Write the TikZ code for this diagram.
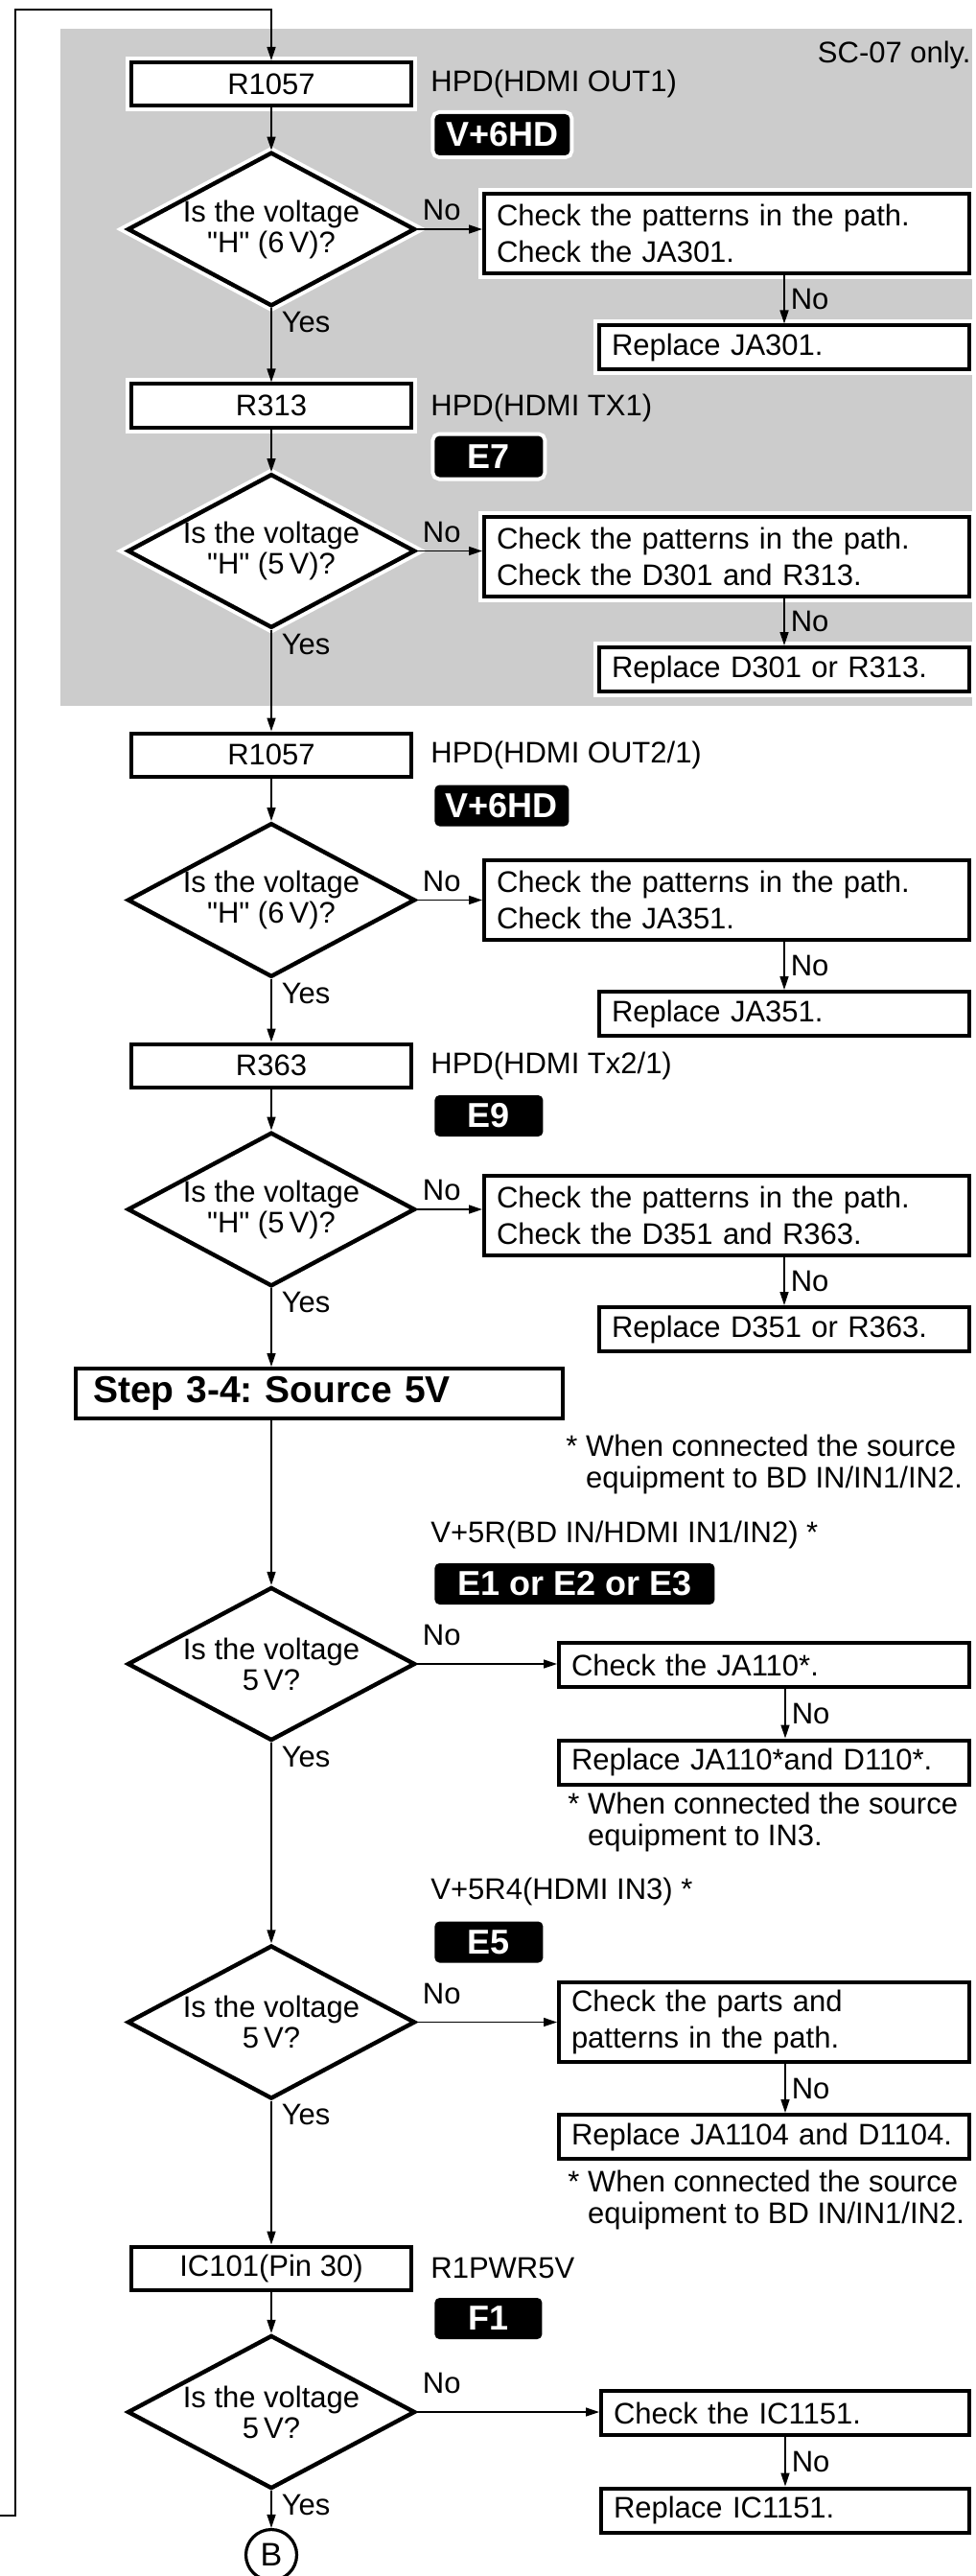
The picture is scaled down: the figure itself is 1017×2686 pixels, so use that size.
\documentclass[tikz,border=0pt]{standalone}
\usepackage{fontspec}
\setmainfont{Liberation Sans}
\usetikzlibrary{arrows.meta, shapes.geometric, calc}
\frenchspacing
\newcommand{\qH}{\textquotedbl H\textquotedbl}

\begin{document}
\begin{tikzpicture}[x=0.5pt, y=-0.5pt, >={Triangle[length=7pt, width=4.5pt]},
  txt/.style={font=\fontsize{15.5}{19}\selectfont},
  conn/.style={->, line width=0.75pt},
  partbox/.style={draw, line width=2pt, fill=white, inner sep=0pt,
    minimum width=146pt, minimum height=22.5pt, txt},
  chkbox/.style={draw, line width=2pt, fill=white, inner ysep=0pt, inner xsep=6.5pt,
    text width=#1, align=left, minimum height=23pt, txt},
  decision/.style={diamond, draw, line width=2.2pt, fill=white, aspect=1.85, inner sep=0pt,
    minimum width=150pt, minimum height=80pt, align=center,
    font=\fontsize{15.5}{16}\selectfont},
  grayzone/.style={preaction={draw=white, fill=white, line width=6pt}},
  tag/.style={fill=black, text=white, rounded corners=2.5pt, inner sep=0pt, anchor=west,
    minimum width=#1, minimum height=21.5pt, preaction={draw=white, line width=4pt},
    font=\fontsize{18}{18}\selectfont\bfseries},
  side/.style={anchor=west, inner sep=0pt, txt},
  note/.style={anchor=north west, inner sep=0pt, align=left, font=\fontsize{15.5}{16.5}\selectfont},
  nolbl/.style={pos=0, anchor=south west, inner sep=1pt, xshift=1.5pt, yshift=3pt, txt},
  nodown/.style={right, inner sep=1pt, xshift=2pt, txt},
  yeslbl/.style={pos=0, anchor=north west, inner sep=1pt, xshift=4pt, yshift=-0.5pt, txt}]

\useasboundingbox (0,0) rectangle (1017,2686);

% === SC-07 block (gray) ===
\fill[black!20] (63,30) rectangle (1014,736);
\node[side, anchor=east] (sconly) at (1013,57) {SC-07 only.};

\node[partbox, grayzone] (r1057a) at (283,87.5) {R1057};
\node[side] (hpdout1) at (449,87) {HPD(HDMI OUT1)};
\node[tag=70.5pt] (v6hda) at (453,140.5) {V+6HD};
\node[decision, grayzone] (d1) at (283,239) {Is the voltage\\\qH{} (6\,V)?};
\node[chkbox=240pt, minimum height=41.5pt, grayzone] (c1) at (758,243.5) {Check the patterns in the path.\\Check the JA301.};
\node[chkbox=180pt, grayzone] (rep1) at (818,362.5) {Replace JA301.};

\node[partbox, grayzone] (r313) at (283,423) {R313};
\node[side] (hpdtx1) at (449,425) {HPD(HDMI TX1)};
\node[tag=56.5pt] (e7) at (453,476) {E7};
\node[decision, grayzone] (d2) at (283,574.5) {Is the voltage\\\qH{} (5\,V)?};
\node[chkbox=240pt, minimum height=41.5pt, grayzone] (c2) at (758,580) {Check the patterns in the path.\\Check the D301 and R313.};
\node[chkbox=180pt, grayzone] (rep2) at (818,698) {Replace D301 or R313.};

% === HDMI OUT2/1 ===
\node[partbox] (r1057b) at (283,787) {R1057};
\node[side] (hpdout2) at (449,787) {HPD(HDMI OUT2/1)};
\node[tag=70pt] (v6hdb) at (453,840) {V+6HD};
\node[decision] (d3) at (283,938.5) {Is the voltage\\\qH{} (6\,V)?};
\node[chkbox=240pt, minimum height=41.5pt] (c3) at (758,938.5) {Check the patterns in the path.\\Check the JA351.};
\node[chkbox=180pt] (rep3) at (818,1057) {Replace JA351.};

\node[partbox] (r363) at (283,1111) {R363};
\node[side] (hpdtx2) at (449,1111) {HPD(HDMI Tx2/1)};
\node[tag=56.5pt] (e9) at (453,1163.5) {E9};
\node[decision] (d4) at (283,1261) {Is the voltage\\\qH{} (5\,V)?};
\node[chkbox=240pt, minimum height=41.5pt] (c4) at (758,1267.5) {Check the patterns in the path.\\Check the D351 and R363.};
\node[chkbox=180pt] (rep4) at (818,1386) {Replace D351 or R363.};

% === Step 3-4 ===
\node[draw, line width=2pt, fill=white, text width=236pt, inner xsep=9pt, inner ysep=0pt,
  minimum height=26pt, align=left, font=\fontsize{19.5}{20}\selectfont\bfseries] (step) at (333,1453) {Step 3-4: Source 5V};
\node[note] (note1) at (590,1496) {* When connected the source\\\hphantom{*~}equipment to BD IN/IN1/IN2.};

\node[side] (v5r) at (449,1600) {V+5R(BD IN/HDMI IN1/IN2) *};
\node[tag=146pt] (e123) at (453,1651.5) {E1 or E2 or E3};
\node[decision] (d5) at (283,1735) {Is the voltage\\5\,V?};
\node[chkbox=201pt] (c5) at (797,1736) {Check the JA110*.};
\node[chkbox=201pt] (rep5) at (797,1837.5) {Replace JA110*and D110*.};
\node[note] (note2) at (592,1869) {* When connected the source\\\hphantom{*~}equipment to IN3.};

\node[side] (v5r4) at (449,1972) {V+5R4(HDMI IN3) *};
\node[tag=56.5pt] (e5) at (453,2025) {E5};
\node[decision] (d6) at (283,2108.5) {Is the voltage\\5\,V?};
\node[chkbox=201pt, minimum height=41.5pt] (c6) at (797,2108.5) {Check the parts and\\patterns in the path.};
\node[chkbox=201pt] (rep6) at (797,2228) {Replace JA1104 and D1104.};
\node[note] (note3) at (592,2263) {* When connected the source\\\hphantom{*~}equipment to BD IN/IN1/IN2.};

% === R1PWR5V ===
\node[partbox] (ic101) at (283,2365) {IC101(Pin 30)};
\node[side] (r1pwr) at (449,2365) {R1PWR5V};
\node[tag=56pt] (f1) at (453,2417.5) {F1};
\node[decision] (d7) at (283,2515) {Is the voltage\\5\,V?};
\node[chkbox=179pt] (c7) at (819,2516) {Check the IC1151.};
\node[chkbox=179pt] (rep7) at (819,2617.5) {Replace IC1151.};
\node[circle, draw, line width=1.6pt, inner sep=0pt, minimum size=26.5pt,
  font=\fontsize{17}{17}\selectfont] (conB) at (283,2664) {B};

% === Connectors ===
\coordinate (loopin) at (0,2623);
\coordinate (loopbot) at (16,2623);
\coordinate (looptop) at (16,10);
\draw[conn] (loopin) -- (loopbot) -- (looptop) -- (looptop -| r1057a.north) -- (r1057a.north);

\draw[conn] (r1057a) -- (d1);
\draw[conn] (d1) -- node[yeslbl] {Yes} (r313);
\draw[conn] (r313) -- (d2);
\draw[conn] (d2) -- node[yeslbl] {Yes} (r1057b);
\draw[conn] (r1057b) -- (d3);
\draw[conn] (d3) -- node[yeslbl] {Yes} (r363);
\draw[conn] (r363) -- (d4);
\draw[conn] (d4.south) -- node[yeslbl] {Yes} (d4.south |- step.north);
\draw[conn] (step.south -| d5.north) -- (d5.north);
\draw[conn] (d5) -- node[yeslbl] {Yes} (d6);
\draw[conn] (d6) -- node[yeslbl] {Yes} (ic101);
\draw[conn] (ic101) -- (d7);
\draw[conn] (d7) -- node[yeslbl] {Yes} (conB);

% No branches
\draw[conn] (d1.east) -- node[nolbl] {No} (d1.east -| c1.west);
\draw[conn] (c1.south -| rep1.north) -- node[nodown] {No} (rep1.north);
\draw[conn] (d2.east) -- node[nolbl] {No} (d2.east -| c2.west);
\draw[conn] (c2.south -| rep2.north) -- node[nodown] {No} (rep2.north);
\draw[conn] (d3.east) -- node[nolbl] {No} (d3.east -| c3.west);
\draw[conn] (c3.south -| rep3.north) -- node[nodown] {No} (rep3.north);
\draw[conn] (d4.east) -- node[nolbl] {No} (d4.east -| c4.west);
\draw[conn] (c4.south -| rep4.north) -- node[nodown] {No} (rep4.north);
\draw[conn] (d5.east) -- node[nolbl, yshift=5pt] {No} (d5.east -| c5.west);
\draw[conn] ([xshift=11pt]c5.south) -- node[nodown] {No} ([xshift=11pt]rep5.north);
\draw[conn] (d6.east) -- node[nolbl, yshift=5pt] {No} (d6.east -| c6.west);
\draw[conn] ([xshift=11pt]c6.south) -- node[nodown] {No} ([xshift=11pt]rep6.north);
\draw[conn] (d7.east) -- node[nolbl, yshift=5pt] {No} (d7.east -| c7.west);
\draw[conn] (c7.south) -- node[nodown] {No} (rep7.north);

\end{tikzpicture}
\end{document}
